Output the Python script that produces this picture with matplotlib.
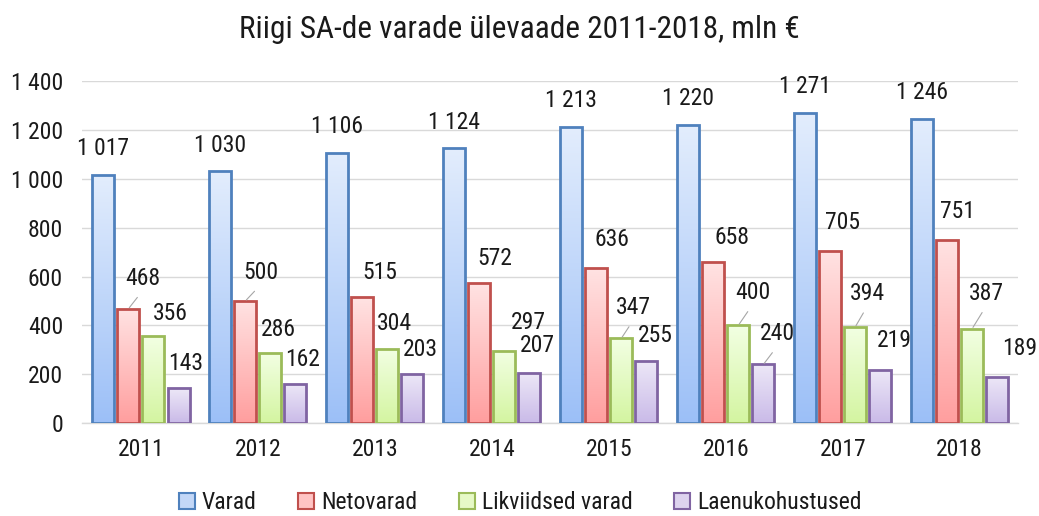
import matplotlib
matplotlib.use("Agg")
import matplotlib.pyplot as plt
import numpy as np
from matplotlib.patches import Patch
from matplotlib.ticker import FuncFormatter, MultipleLocator

plt.rcParams['font.family'] = ['Roboto Condensed', 'DejaVu Sans']

# ---- data ----
years = ["2011", "2012", "2013", "2014", "2015", "2016", "2017", "2018"]
varad = [1017, 1030, 1106, 1124, 1213, 1220, 1271, 1246]
netovarad = [468, 500, 515, 572, 636, 658, 705, 751]
likviidsed = [356, 286, 304, 297, 347, 400, 394, 387]
laenud = [143, 162, 203, 207, 255, 240, 219, 189]
series_names = ["Varad", "Netovarad", "Likviidsed varad", "Laenukohustused"]
title = "Riigi SA-de varade ülevaade 2011-2018, mln €"

# ---- style / layout ----
edge_colors = ["#4f81bd", "#c0504d", "#9bbb59", "#8064a2"]
grad_top = [(0.89, 0.93, 0.99), (1.00, 0.89, 0.89), (0.95, 1.00, 0.89), (0.93, 0.91, 0.97)]
grad_bot = [(0.61, 0.75, 0.97), (1.00, 0.62, 0.62), (0.83, 0.96, 0.63), (0.79, 0.73, 0.91)]
legend_face = ["#c3d7f7", "#ffc4c4", "#e6f9c6", "#ddd3ee"]
FS = 17

# label offsets (pixels) relative to bar top centre
lab_off = [
    [(0, 26)] * 8,
    [(14.5, 30), (15.5, 28), (17.5, 24.5), (15.5, 25), (15.5, 28), (18.5, 25), (12.5, 28), (10.5, 28)],
    [(16.5, 23), (7.5, 24), (7.5, 25), (23.5, 28), (12.5, 30.5), (14.5, 32.6), (12.5, 33), (14.5, 35)],
    [(7.5, 25), (7.5, 24.5), (7.5, 24.5), (7.5, 26.6), (8.5, 25), (14.5, 30.5), (14.5, 29), (22.5, 28)],
]
leaders = [
    [False] * 8,
    [True, True, False, False, False, False, False, False],
    [False, False, False, False, True, True, True, True],
    [False, False, False, False, False, True, False, False],
]

data = [varad, netovarad, likviidsed, laenud]
fmt = lambda v: f"{int(v):,}".replace(",", " ")

fig = plt.figure(figsize=(10.39, 5.16), dpi=100)
ax = fig.add_axes([0.0794, 0.180, 0.9006, 0.663])

x = np.arange(len(years))
pitch = 0.214
width = 0.188
ax.set_xlim(-0.5, len(years) - 0.5)
ax.set_ylim(0, 1400)

for si, vals in enumerate(data):
    pos = x + (si - 1.5) * pitch
    bars = ax.bar(pos, vals, width=width, facecolor='none', edgecolor=edge_colors[si],
                  linewidth=2.0, zorder=3)
    grad = np.linspace(0, 1, 256)[:, None, None]
    top = np.array(grad_top[si])[None, None, :]
    bot = np.array(grad_bot[si])[None, None, :]
    img = top * (1 - grad) + bot * grad
    for b, p, v in zip(bars, pos, vals):
        im = ax.imshow(img, extent=(p - width / 2, p + width / 2, 0, v), origin='upper',
                       aspect='auto', zorder=2, interpolation='bilinear')
        im.set_clip_path(b)
    for i, (p, v) in enumerate(zip(pos, vals)):
        dx, dy = lab_off[si][i]
        kw = {}
        if leaders[si][i]:
            kw['arrowprops'] = dict(arrowstyle='-', color='#a6a6a6', lw=0.8,
                                    shrinkA=4, shrinkB=1, relpos=(0.5, 0.0))
        ax.annotate(fmt(v), xy=(p, v), xytext=(dx, dy), textcoords='offset pixels',
                    ha='center', va='center', fontsize=FS, color='#1a1a1a', zorder=5, **kw)

ax.set_xlim(-0.5, len(years) - 0.5)
ax.set_ylim(0, 1400)
ax.yaxis.set_major_locator(MultipleLocator(200))
ax.yaxis.set_major_formatter(FuncFormatter(lambda v, _: fmt(v)))
ax.set_xticks(x)
ax.set_xticklabels(years)
ax.tick_params(axis='both', length=0, labelsize=FS, labelcolor='#1a1a1a')
ax.tick_params(axis='x', pad=11)
ax.tick_params(axis='y', pad=14)
ax.grid(axis='y', color='#d9d9d9', linewidth=1.0, zorder=0)
ax.set_axisbelow(True)
for s in ['top', 'right', 'left']:
    ax.spines[s].set_visible(False)
ax.spines['bottom'].set_color('#d9d9d9')
ax.spines['bottom'].set_linewidth(1.0)

fig.text(0.5, 0.942, title, ha='center', va='center', fontsize=22.5, color='#1a1a1a')

handles = [Patch(facecolor=legend_face[i], edgecolor=edge_colors[i], linewidth=1.5)
           for i in range(4)]
fig.legend(handles, series_names, loc='center', bbox_to_anchor=(0.5005, 0.026), ncol=4,
           frameon=False, fontsize=FS, handlelength=0.68, handleheight=0.68,
           handletextpad=0.3, columnspacing=1.75, labelcolor='#1a1a1a',
           borderaxespad=0, borderpad=0.1)

fig.savefig("out.png", dpi=100)
